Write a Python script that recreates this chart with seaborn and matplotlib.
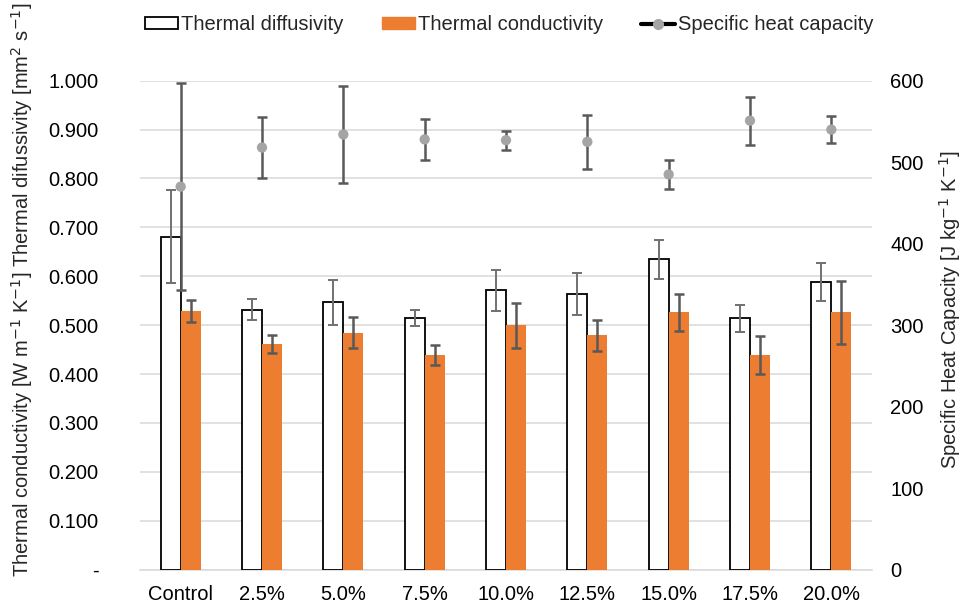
import matplotlib
matplotlib.use("Agg")
import matplotlib.pyplot as plt
import seaborn as sns
import pandas as pd
import numpy as np
from matplotlib.patches import Patch
from matplotlib.lines import Line2D

categories = ["Control", "2.5%", "5.0%", "7.5%", "10.0%", "12.5%", "15.0%", "17.5%", "20.0%"]
diffusivity = [0.681, 0.532, 0.547, 0.515, 0.571, 0.564, 0.635, 0.514, 0.588]
diffusivity_err = [0.095, 0.022, 0.046, 0.017, 0.042, 0.043, 0.040, 0.028, 0.039]
conductivity = [0.529, 0.462, 0.485, 0.439, 0.500, 0.479, 0.526, 0.439, 0.526]
conductivity_err = [0.023, 0.018, 0.032, 0.020, 0.046, 0.031, 0.037, 0.038, 0.065]
heat_capacity = [470, 518, 534, 528, 527, 525, 485, 551, 540]
heat_capacity_err = [127, 37, 60, 25, 11.5, 33, 18, 29.5, 16.5]
left_ticks = [0.0, 0.1, 0.2, 0.3, 0.4, 0.5, 0.6, 0.7, 0.8, 0.9, 1.0]
left_ticklabels = ["-", "0.100", "0.200", "0.300", "0.400", "0.500", "0.600", "0.700", "0.800", "0.900", "1.000"]
right_ticks = [0, 100, 200, 300, 400, 500, 600]

sns.set_theme(style="white")
plt.rcParams["font.family"] = ["Liberation Sans", "DejaVu Sans"]
FS = 14.5

ORANGE = "#ED7D31"
GRAY_PT = "#A5A5A5"
ERR_DARK = "#595959"
ERR_LIGHT = "#707070"
GRID = "#D9D9D9"

df = pd.DataFrame({
    "category": categories * 2,
    "series": ["Thermal diffusivity"] * len(categories) + ["Thermal conductivity"] * len(categories),
    "value": diffusivity + conductivity,
})

fig = plt.figure(figsize=(9.62, 6.03), dpi=100)
ax = fig.add_axes([140 / 962, 1 - 569.7 / 603, (872 - 140) / 962, (569.7 - 80.7) / 603])

sns.barplot(data=df, x="category", y="value", hue="series", order=categories,
            hue_order=["Thermal diffusivity", "Thermal conductivity"],
            palette=["white", ORANGE], width=0.49, errorbar=None, legend=False,
            saturation=1, ax=ax, zorder=3)

n = len(categories)
patches = ax.patches[:2 * n]
for i, p in enumerate(patches):
    if i < n:
        p.set_edgecolor("black")
        p.set_linewidth(1.3)
    else:
        p.set_edgecolor(ORANGE)
        p.set_linewidth(0)

diff_x = [p.get_x() + p.get_width() / 2 for p in patches[:n]]
cond_x = [p.get_x() + p.get_width() / 2 for p in patches[n:]]
ax.errorbar(diff_x, diffusivity, yerr=diffusivity_err, fmt="none", ecolor=ERR_LIGHT,
            elinewidth=1.4, capsize=3.3, capthick=1.4, zorder=4)
ax.errorbar(cond_x, conductivity, yerr=conductivity_err, fmt="none", ecolor=ERR_DARK,
            elinewidth=1.8, capsize=3.3, capthick=1.8, zorder=4)

ax.set_ylim(0, 1.0)
ax.set_xlim(-0.5, n - 0.5)
ax.set_yticks(left_ticks)
ax.set_yticklabels(left_ticklabels)
ax.yaxis.grid(True, color=GRID, linewidth=1.1, zorder=0)
ax.set_axisbelow(True)
for s in ["top", "left", "right"]:
    ax.spines[s].set_visible(False)
ax.spines["bottom"].set_color(GRID)
ax.spines["bottom"].set_linewidth(1.1)
ax.tick_params(axis="y", length=0, pad=30, labelsize=FS, colors="black")
ax.tick_params(axis="x", length=0, pad=11, labelsize=FS, colors="black")
for t in ax.get_yticklabels():
    t.set_horizontalalignment("right")
ax.set_xlabel("")
ax.set_ylabel("")

fig.text(22 / 962, 1 - 290 / 603,
         "Thermal conductivity [W m$^{-1}$ K$^{-1}$] Thermal difussivity [mm$^{2}$ s$^{-1}$]",
         rotation=90, ha="center", va="center", fontsize=FS)

ax2 = ax.twinx()
x_pos = np.arange(n)
ax2.errorbar(x_pos, heat_capacity, yerr=heat_capacity_err, fmt="none", ecolor=ERR_DARK,
             elinewidth=1.8, capsize=3.3, capthick=1.8, zorder=5)
sns.scatterplot(x=x_pos, y=heat_capacity, ax=ax2, color=GRAY_PT, s=55, edgecolor="none",
                zorder=6, legend=False)
ax2.set_ylim(0, 600)
ax2.set_xlim(-0.5, n - 0.5)
ax2.set_yticks(right_ticks)
ax2.tick_params(axis="y", length=0, pad=13, labelsize=FS, colors="black")
for s in ["top", "left", "right", "bottom"]:
    ax2.spines[s].set_visible(False)
ax2.grid(False)
ax2.set_ylabel("")
fig.text(950 / 962, 1 - 310 / 603, "Specific Heat Capacity [J kg$^{-1}$ K$^{-1}$]",
         rotation=90, ha="center", va="center", fontsize=FS)

handles = [
    Patch(facecolor="white", edgecolor="black", linewidth=1.3, label="Thermal diffusivity"),
    Patch(facecolor=ORANGE, edgecolor=ORANGE, label="Thermal conductivity"),
    Line2D([0], [0], color="black", linewidth=3, marker="o", markersize=7,
           markerfacecolor=GRAY_PT, markeredgecolor=GRAY_PT, label="Specific heat capacity"),
]
fig.legend(handles=handles, loc="center", bbox_to_anchor=(509 / 962, 1 - 25 / 603), ncol=3,
           frameon=False, fontsize=FS, handlelength=1.65, handleheight=0.55,
           handletextpad=0.15, columnspacing=1.9, borderaxespad=0)

fig.savefig("out.png", dpi=100)
